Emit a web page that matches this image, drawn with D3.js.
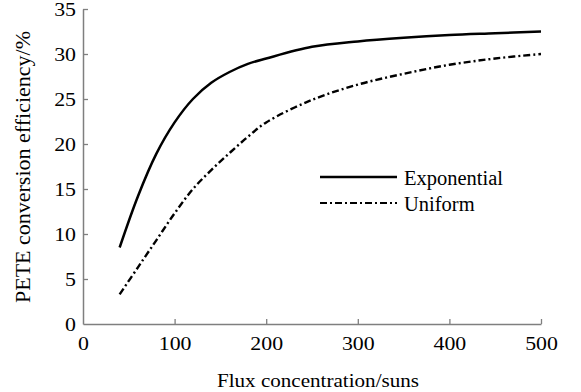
<!DOCTYPE html>
<html>
<head>
<meta charset="utf-8">
<script src="https://cdn.jsdelivr.net/npm/d3@7"></script>
<style>
  html, body { margin: 0; padding: 0; background: #fff; }
  svg { display: block; }
  svg text { font-family: "Liberation Serif", "DejaVu Serif", serif; fill: #000; }
</style>
</head>
<body>
<svg id="chart" width="581" height="392"></svg>
<script>
const flux = [40, 60, 80, 100, 120, 140, 160, 180, 200, 250, 300, 350, 400, 450, 500];
const exponential = [8.5, 14.2, 18.9, 22.4, 25.0, 26.8, 28.0, 28.9, 29.5, 30.8, 31.4, 31.8, 32.1, 32.3, 32.5];
const uniform = [3.3, 6.3, 9.3, 12.3, 15.0, 17.1, 19.0, 20.8, 22.4, 24.9, 26.6, 27.8, 28.8, 29.5, 30.0];
const xTicks = [0, 100, 200, 300, 400, 500];
const yTicks = [0, 5, 10, 15, 20, 25, 30, 35];
const seriesNames = ["Exponential", "Uniform"];

const FONT = "Liberation Serif, DejaVu Serif, serif";
const svg = d3.select("#chart");
const x = d3.scaleLinear().domain([0, 500]).range([83, 541]);
const y = d3.scaleLinear().domain([0, 35]).range([324, 9]);
const axisColor = "#7f7f7f";

// horizontally stretch text (reference glyphs are slightly wide)
function stretch(sel, sx) {
  sel.each(function () {
    const t = d3.select(this);
    const x0 = +t.attr("x") || 0;
    t.attr("x", x0 / sx).attr("transform", `scale(${sx},1)`);
  });
}

// Y axis
const gy = svg.append("g").attr("transform", `translate(${x(0)},0)`)
  .call(d3.axisLeft(y).tickValues(yTicks).tickSizeInner(-5).tickSizeOuter(0).tickPadding(7))
  .attr("font-family", FONT).attr("font-size", 19);
gy.selectAll("text").attr("font-family", FONT).attr("font-size", 19).attr("fill", "#000");
stretch(gy.selectAll("text"), 1.15);
gy.select(".domain").attr("stroke", axisColor).attr("stroke-width", 1.5);
gy.selectAll(".tick line").attr("stroke", axisColor).attr("stroke-width", 1.3);
gy.selectAll(".tick").filter(d => d === 0).select("line").remove();

// X axis
const gx = svg.append("g").attr("transform", `translate(0,${y(0)})`)
  .call(d3.axisBottom(x).tickValues(xTicks).tickSizeInner(-5).tickSizeOuter(0).tickPadding(12.5))
  .attr("font-family", FONT).attr("font-size", 19);
gx.selectAll("text").attr("font-family", FONT).attr("font-size", 19).attr("fill", "#000");
stretch(gx.selectAll("text"), 1.15);
gx.select(".domain").attr("stroke", axisColor).attr("stroke-width", 1.5);
gx.selectAll(".tick line").attr("stroke", axisColor).attr("stroke-width", 1.3);
gx.selectAll(".tick").filter(d => d === 0).select("line").remove();

// Axis titles
const xt = svg.append("text")
  .attr("x", 318).attr("y", 387)
  .attr("text-anchor", "middle")
  .attr("font-family", FONT).attr("font-size", 19)
  .text("Flux concentration/suns");
stretch(xt, 1.11);
svg.append("text")
  .attr("transform", "translate(30,167) rotate(-90)")
  .attr("text-anchor", "middle")
  .attr("font-family", FONT).attr("font-size", 22)
  .text("PETE conversion efficiency/%");

// Lines
const line = d3.line().x(d => x(d[0])).y(d => y(d[1])).curve(d3.curveCatmullRom.alpha(0.5));
const dashDot = "7,3,2,3";
svg.append("path")
  .datum(flux.map((f, i) => [f, exponential[i]]))
  .attr("d", line).attr("fill", "none").attr("stroke", "#000").attr("stroke-width", 2.5);
svg.append("path")
  .datum(flux.map((f, i) => [f, uniform[i]]))
  .attr("d", line).attr("fill", "none").attr("stroke", "#000").attr("stroke-width", 2.4)
  .attr("stroke-dasharray", dashDot);

// Legend
const legend = svg.append("g");
const legendRows = [{ y: 177, dash: null }, { y: 203, dash: dashDot }];
seriesNames.forEach((name, i) => {
  const r = legendRows[i];
  const l = legend.append("line")
    .attr("x1", 320).attr("x2", 397).attr("y1", r.y).attr("y2", r.y)
    .attr("stroke", "#000").attr("stroke-width", i === 0 ? 2.6 : 2.2);
  if (r.dash) l.attr("stroke-dasharray", r.dash);
  legend.append("text")
    .attr("x", 404).attr("y", r.y + 8)
    .attr("font-family", FONT).attr("font-size", 20.5)
    .text(name);
});
</script>
</body>
</html>
